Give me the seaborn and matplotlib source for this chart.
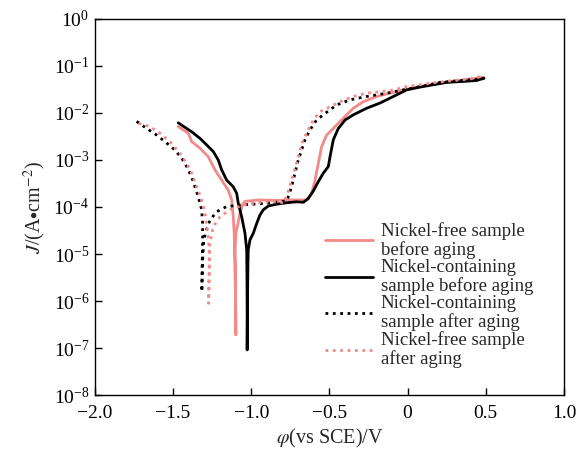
import numpy as np
import pandas as pd
import matplotlib
matplotlib.use("Agg")
import matplotlib.pyplot as plt
import seaborn as sns

# potential (V vs SCE) and log10 of current density (A/cm^2)
nf_before_v = [-1.467, -1.403, -1.381, -1.328, -1.275, -1.232, -1.189, -1.147, -1.125, -1.115,
               -1.109, -1.104, -1.100, -1.098, -1.101, -1.103, -1.098, -1.085, -1.072, -1.055,
               -1.040, -0.950, -0.850, -0.750, -0.680, -0.646, -0.614, -0.592, -0.571, -0.550,
               -0.518, -0.475, -0.411, -0.347, -0.283, -0.198, -0.113, -0.027, 0.079, 0.207,
               0.335, 0.485]
nf_before_logj = [-2.29, -2.43, -2.61, -2.75, -2.93, -3.21, -3.43, -3.64, -3.85, -4.21,
                  -4.56, -5.27, -5.98, -6.72, -5.60, -4.90, -4.55, -4.35, -4.13, -3.95,
                  -3.88, -3.85, -3.86, -3.85, -3.85, -3.85, -3.71, -3.43, -3.07, -2.72,
                  -2.47, -2.33, -2.11, -1.90, -1.76, -1.65, -1.58, -1.51, -1.44, -1.37,
                  -1.31, -1.24]

nc_before_v = [-1.467, -1.413, -1.381, -1.328, -1.285, -1.243, -1.211, -1.189, -1.157, -1.115,
               -1.093, -1.083, -1.061, -1.040, -1.029, -1.027, -1.026, -1.026,
               -1.024, -1.021, -1.019, -1.008, -0.987, -0.965, -0.944, -0.923, -0.891, -0.838,
               -0.774, -0.710, -0.667, -0.635, -0.603, -0.571, -0.539, -0.507, -0.496, -0.475,
               -0.443, -0.400, -0.347, -0.262, -0.177, -0.091, -0.006, 0.079, 0.164, 0.250,
               0.356, 0.442, 0.489]
nc_before_logj = [-2.21, -2.33, -2.40, -2.54, -2.68, -2.82, -3.00, -3.21, -3.43, -3.57,
                  -3.71, -3.92, -4.21, -4.56, -4.91, -5.62, -6.33, -7.04,
                  -6.00, -5.20, -4.91, -4.70, -4.56, -4.35, -4.17, -4.06, -3.98, -3.94,
                  -3.91, -3.89, -3.90, -3.82, -3.66, -3.46, -3.28, -3.14, -2.93, -2.57,
                  -2.33, -2.15, -2.04, -1.90, -1.79, -1.65, -1.51, -1.45, -1.40, -1.35,
                  -1.33, -1.31, -1.26]

nc_after_v = [-1.733, -1.669, -1.605, -1.541, -1.488, -1.445, -1.413, -1.381, -1.360, -1.339,
              -1.317, -1.311, -1.311, -1.314, -1.316,
              -1.311, -1.303, -1.290, -1.264, -1.221, -1.157, -1.072, -0.987, -0.901, -0.816,
              -0.774, -0.763, -0.742, -0.720, -0.699, -0.678, -0.656, -0.624, -0.582, -0.528,
              -0.454, -0.368, -0.262, -0.134, -0.027, 0.079, 0.207, 0.335, 0.463, 0.490]
nc_after_logj = [-2.18, -2.33, -2.47, -2.64, -2.79, -2.96, -3.14, -3.36, -3.57, -3.78,
                 -4.06, -4.35, -4.70, -5.27, -5.80,
                 -5.13, -4.70, -4.52, -4.28, -4.10, -3.99, -3.96, -3.94, -3.92, -3.89,
                 -3.87, -3.78, -3.57, -3.28, -3.00, -2.79, -2.57, -2.36, -2.15, -2.01,
                 -1.83, -1.72, -1.65, -1.58, -1.51, -1.44, -1.35, -1.31, -1.28, -1.27]

nf_after_v = [-1.720, -1.648, -1.584, -1.520, -1.456, -1.413, -1.381, -1.349, -1.317, -1.296,
              -1.285, -1.275, -1.269, -1.269, -1.273,
              -1.268, -1.264, -1.243, -1.200, -1.136, -1.051, -0.965, -0.901, -0.816, -0.795,
              -0.774, -0.742, -0.710, -0.688, -0.667, -0.635, -0.603, -0.560, -0.496, -0.432,
              -0.347, -0.262, -0.177, -0.091, -0.006, 0.079, 0.186, 0.292, 0.399, 0.485]
nf_after_logj = [-2.22, -2.29, -2.43, -2.61, -2.86, -3.07, -3.28, -3.57, -3.85, -4.13,
                 -4.42, -4.63, -4.91, -5.41, -6.05,
                 -5.30, -4.77, -4.42, -4.21, -4.06, -3.96, -3.91, -3.89, -3.89, -3.92,
                 -3.78, -3.43, -3.07, -2.79, -2.57, -2.36, -2.15, -1.97, -1.87, -1.76,
                 -1.65, -1.58, -1.55, -1.51, -1.44, -1.40, -1.35, -1.31, -1.28, -1.21]

labels = ["Nickel-free sample\nbefore aging",
          "Nickel-containing\nsample before aging",
          "Nickel-containing\nsample after aging",
          "Nickel-free sample\nafter aging"]
x_ticks = [-2.0, -1.5, -1.0, -0.5, 0, 0.5, 1.0]
x_tick_labels = ["\u22122.0", "\u22121.5", "\u22121.0", "\u22120.5", "0", "0.5", "1.0"]

pink = "#f28a8a"
sns.set_style("ticks", {"xtick.direction": "in", "ytick.direction": "in"})
plt.rcParams["font.family"] = ["Liberation Serif", "DejaVu Serif"]
plt.rcParams["mathtext.fontset"] = "stix"

fig = plt.figure(figsize=(5.82, 4.61), dpi=100)
ax = fig.add_axes([0.163, 0.143, 0.806, 0.816])

series = [
    (nf_before_v, nf_before_logj, pink, "-", labels[0]),
    (nc_before_v, nc_before_logj, "black", "-", labels[1]),
    (nc_after_v, nc_after_logj, "black", ":", labels[2]),
    (nf_after_v, nf_after_logj, pink, ":", labels[3]),
]
for v, lj, c, ls, lab in series:
    df = pd.DataFrame({"V": v, "J": 10.0 ** np.array(lj)})
    sns.lineplot(data=df, x="V", y="J", sort=False, estimator=None, color=c,
                 linestyle=ls, linewidth=2.0, label=lab, ax=ax)

ax.set_yscale("log")
ax.set_xlim(-2.0, 1.0)
ax.set_ylim(1e-8, 1e0)
ax.set_yticks([10.0 ** k for k in range(-8, 1)])
ax.yaxis.set_minor_locator(matplotlib.ticker.NullLocator())
ax.set_xticks(x_ticks)
ax.set_xticklabels(x_tick_labels)
ax.tick_params(axis="both", which="major", direction="in", length=5, width=1,
               labelsize=14, color="black", labelcolor="black", pad=4)
ax.tick_params(axis="x", pad=7)
for s in ax.spines.values():
    s.set_color("black")
    s.set_linewidth(1.0)

ax.set_xlabel(r"$\varphi$(vs SCE)/V", fontsize=14.5, labelpad=4)
ax.set_ylabel(r"$J$/(A$\bullet$cm$^{-2}$)", fontsize=14.5, labelpad=4)

leg = ax.legend(loc="upper left", bbox_to_anchor=(0.49, 0.46), frameon=False,
                fontsize=13.5, handlelength=2.55, handletextpad=0.43,
                labelspacing=0.0, borderpad=0.0, borderaxespad=0.0)
for t in leg.get_texts():
    t.set_linespacing(1.09)

fig.savefig("out.png", dpi=100)
